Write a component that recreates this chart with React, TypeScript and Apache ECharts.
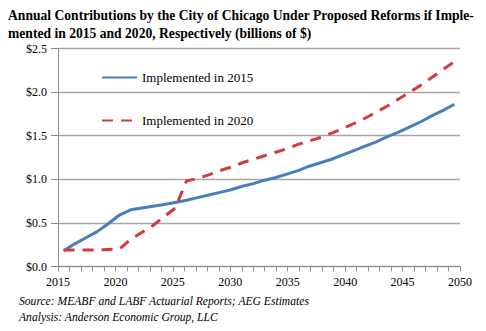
import React, { useEffect, useRef } from "react";
import * as echarts from "echarts";

const years: string[] = [];
for (let y = 2015; y <= 2050; y++) years.push(String(y));

const implemented2015 = [
  0.18, 0.26, 0.33, 0.40, 0.49, 0.59, 0.65, 0.67, 0.69, 0.71,
  0.735, 0.76, 0.79, 0.82, 0.85, 0.88, 0.92, 0.95, 0.99, 1.02,
  1.06, 1.10, 1.15, 1.19, 1.23, 1.28, 1.33, 1.38, 1.43, 1.49,
  1.54, 1.60, 1.66, 1.73, 1.79, 1.86,
];

const implemented2020 = [
  0.19, 0.19, 0.19, 0.19, 0.195, 0.20, 0.31, 0.39, 0.47, 0.57,
  0.67, 0.98, 1.01, 1.05, 1.10, 1.14, 1.19, 1.23, 1.27, 1.31,
  1.35, 1.40, 1.44, 1.48, 1.53, 1.58, 1.64, 1.70, 1.77, 1.84,
  1.92, 2.00, 2.08, 2.17, 2.26, 2.35,
];

const seriesNames = ["Implemented in 2015", "Implemented in 2020"];
const titleLines = [
  "Annual Contributions by the City of Chicago Under Proposed Reforms if Imple-",
  "mented in 2015 and 2020, Respectively (billions of $)",
];
const footLines = [
  "Source: MEABF and LABF Actuarial Reports; AEG Estimates",
  "Analysis: Anderson Economic Group, LLC",
];

const FONT = "Liberation Serif";

export default function App() {
  const ref = useRef<HTMLDivElement>(null);
  useEffect(() => {
    if (!ref.current) return;
    const chart = echarts.init(ref.current, null, { renderer: "svg" });
    chart.setOption({
      animation: false,
      backgroundColor: "#ffffff",
      grid: { left: 58, right: 26, top: 48.5, bottom: 64.5, containLabel: false },
      legend: {
        orient: "vertical",
        left: 101,
        top: 71,
        padding: 0,
        itemWidth: 35,
        itemHeight: 14,
        itemGap: 30,
        data: seriesNames,
        itemStyle: { opacity: 0 },
        textStyle: { fontFamily: FONT, fontSize: 13, color: "#000" },
      },
      xAxis: [
        {
          type: "value",
          min: 2015,
          max: 2050,
          interval: 5,
          axisLine: { show: true, lineStyle: { color: "#8c8c8c", width: 1 } },
          axisTick: { show: true, length: 5, lineStyle: { color: "#8c8c8c" } },
          minorTick: { show: true, splitNumber: 5, length: 5, lineStyle: { color: "#8c8c8c" } },
          splitLine: { show: false },
          axisLabel: {
            fontFamily: FONT,
            fontSize: 12,
            color: "#000",
            margin: 9,
            formatter: (v: number) => String(v),
          },
        },
        {
          type: "category",
          data: years,
          boundaryGap: true,
          show: false,
        },
      ],
      yAxis: {
        type: "value",
        min: 0,
        max: 2.5,
        interval: 0.5,
        axisLine: { show: true, lineStyle: { color: "#8c8c8c", width: 1 } },
        axisTick: { show: true, length: 7, lineStyle: { color: "#8c8c8c" } },
        splitLine: { show: true, lineStyle: { color: "#a6a6a6", width: 1.3 } },
        axisLabel: {
          fontFamily: FONT,
          fontSize: 12,
          color: "#000",
          margin: 11,
          formatter: (v: number) => "$" + v.toFixed(1),
        },
      },
      series: [
        {
          name: seriesNames[0],
          type: "line",
          xAxisIndex: 1,
          data: implemented2015,
          symbol: "none",
          color: "#4a7ebb",
          lineStyle: { color: "#4a7ebb", width: 3 },
        },
        {
          name: seriesNames[1],
          type: "line",
          xAxisIndex: 1,
          data: implemented2020,
          symbol: "none",
          color: "#d13b40",
          lineStyle: { color: "#d13b40", width: 3, type: [11, 8] },
        },
      ],
      graphic: [
        {
          type: "text",
          left: 8,
          top: 7,
          style: {
            text: titleLines.join("\n"),
            fontFamily: FONT,
            fontSize: 13.6,
            fontWeight: "bold",
            fill: "#000",
            lineHeight: 17.7,
          },
        },
        {
          type: "text",
          left: 19,
          top: 293,
          style: {
            text: footLines.join("\n"),
            fontFamily: FONT,
            fontSize: 11.6,
            fontStyle: "italic",
            fill: "#000",
            lineHeight: 16,
          },
        },
      ],
    });
    return () => chart.dispose();
  }, []);
  return <div ref={ref} style={{ width: 486, height: 331, position: "absolute", left: 0, top: 0 }} />;
}
